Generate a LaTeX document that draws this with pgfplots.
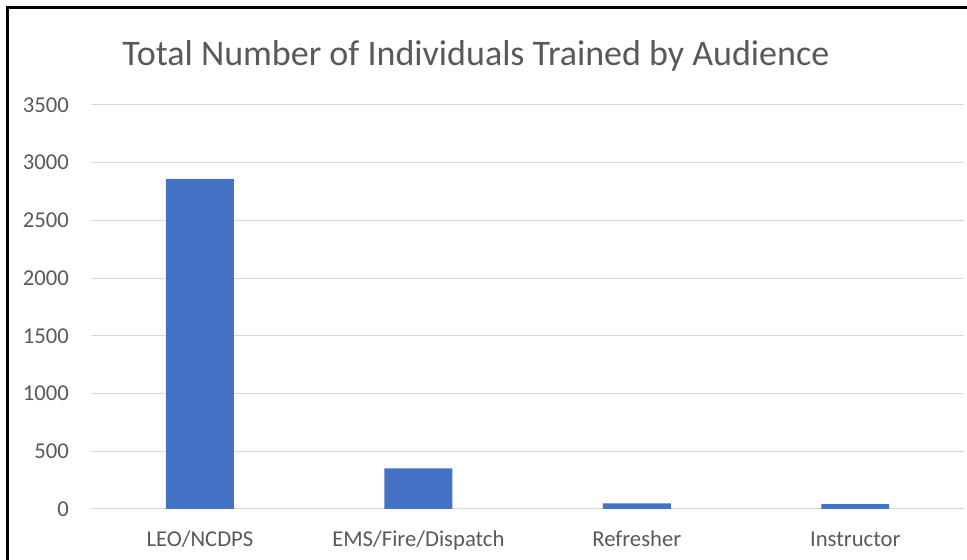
\documentclass[border=0pt]{standalone}
\usepackage{fontspec}
\setmainfont{Carlito}
\usepackage{pgfplots}
\pgfplotsset{compat=1.18}
\definecolor{barblue}{HTML}{4472C4}
\definecolor{txtgray}{HTML}{595959}
\definecolor{gridgray}{HTML}{D9D9D9}

\begin{document}
\begin{tikzpicture}
% image frame: 967x560 px, 1px = 0.75pt, axis box lower-left at origin
\useasboundingbox (-68.06pt,-38.25pt) rectangle ++(725.25pt,420pt);
\begin{axis}[
  at={(0,0)}, anchor=south west,
  scale only axis,
  width=655.3pt, height=303pt,
  xmin=-0.5, xmax=3.5,
  ymin=0, ymax=3500,
  xtick={0,1,2,3},
  xticklabels={LEO/NCDPS,EMS/Fire/Dispatch,Refresher,Instructor},
  ytick={0,500,1000,1500,2000,2500,3000,3500},
  ymajorgrids=true,
  grid style={gridgray, line width=0.75pt},
  axis line style={draw=none},
  major tick length=0pt,
  tick style={draw=none},
  /pgf/number format/assume math mode=true,
  /pgf/number format/1000 sep={},
  ticklabel style={font=\fontsize{17}{20}\selectfont, text=txtgray, inner sep=0pt},
  yticklabel style={anchor=east, xshift=-16.3pt},
  xticklabel style={anchor=base, yshift=-28.2pt},
  clip=false,
]
\draw[gridgray, line width=0.75pt] (axis cs:-0.5,0) -- (axis cs:3.5,0);
\addplot[ybar, bar width=0.311, fill=barblue, draw=none, bar shift=0pt]
  coordinates {(0,2860) (1,352) (2,49) (3,42)};
\end{axis}
\node[anchor=base, text=txtgray, font=\fontsize{27}{32}\selectfont, inner sep=0pt]
  at (288.9pt,332.25pt) {Total Number of Individuals Trained by Audience};
\draw[black, line width=2.25pt] (-62.44pt,-40pt) -- (-62.44pt,375.75pt) -- (660pt,375.75pt);
\end{tikzpicture}
\end{document}
